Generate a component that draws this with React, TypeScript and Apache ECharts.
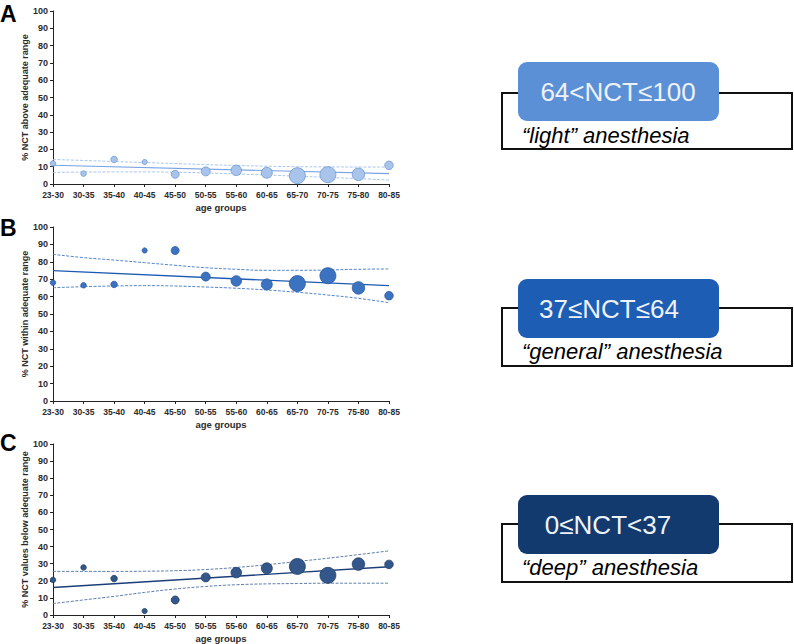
import React, { useEffect, useRef } from "react";
import * as echarts from "echarts";

const categories = ["23-30", "30-35", "35-40", "40-45", "45-50", "50-55", "55-60", "60-65", "65-70", "70-75", "75-80", "80-85"];
const yTicks = [0, 100, 10];

// relative group size (bubble diameter weight) per age group
const groupWeights = [5.5, 5.5, 6.5, 5.2, 8, 9, 10.5, 11, 16, 16, 12.5, 8.5];

const lightValues = [11.9, 6.0, 14.2, 12.7, 5.6, 7.3, 7.9, 6.5, 4.8, 5.4, 5.6, 10.8];
const lightFit = [10.8, 6.0];
const lightUpper = [14.2, 13.6, 13.0, 12.4, 11.8, 11.2, 10.7, 10.3, 10.0, 9.9, 9.8, 9.8];
const lightLower = [6.7, 6.9, 7.0, 7.0, 6.8, 6.4, 5.8, 5.2, 4.5, 3.8, 3.1, 2.3];

const generalValues = [68, 66.5, 67, 86.5, 86.5, 71.5, 69, 67, 67.5, 72, 65, 60.5];
const generalFit = [74.9, 66.3];
const generalUpper = [84.3, 82.4, 81.0, 79.5, 78.0, 76.6, 75.7, 75.1, 75.1, 75.3, 75.7, 75.9];
const generalLower = [65.1, 65.7, 66.1, 66.3, 66.1, 65.5, 64.8, 63.8, 62.5, 60.9, 59.0, 56.5];

const deepValues = [20.5, 27.8, 21.3, 2.3, 8.8, 22, 24.8, 27.3, 28.4, 23.2, 29.8, 29.6];
const deepFit = [16.1, 28.2];
const deepUpper = [25.5, 25.5, 25.5, 25.6, 25.9, 26.6, 27.8, 29.4, 31.3, 33.2, 35.3, 37.5];
const deepLower = [6.7, 8.8, 10.9, 13.2, 15.2, 16.7, 17.7, 18.2, 18.4, 18.6, 18.6, 18.6];

const panelLetters = ["A", "B", "C"];
const yNames = ["% NCT above adequate range", "% NCT within adequate range", "% NCT values below adequate range"];
const xName = "age groups";
const rangeTexts = ["64<NCT≤100", "37≤NCT≤64", "0≤NCT<37"];
const stateTexts = ["\u201Clight\u201D anesthesia", "\u201Cgeneral\u201D anesthesia", "\u201Cdeep\u201D anesthesia"];

const FONT = "'Liberation Sans', Arial, Helvetica, sans-serif";

const panels = [
  { values: lightValues, fit: lightFit, upper: lightUpper, lower: lightLower, fill: "#a8c4ea", border: "#6e97d2", line: "#78a4e4", ci: "#aac6ee", box: "#5b8fd6", top: 11, h: 173 },
  { values: generalValues, fit: generalFit, upper: generalUpper, lower: generalLower, fill: "#3b73c1", border: "#2a5ba3", line: "#1d5bb2", ci: "#5585c9", box: "#1e5db4", top: 227, h: 174 },
  { values: deepValues, fit: deepFit, upper: deepUpper, lower: deepLower, fill: "#33578a", border: "#213e6a", line: "#1b3d78", ci: "#5f7daa", box: "#123a6e", top: 444, h: 173 },
];

const boxes = [
  { outerY: 93, outerH: 56, blueY: 62, textX: 618, subY: 135 },
  { outerY: 308, outerH: 58, blueY: 279, textX: 609, subY: 351 },
  { outerY: 524, outerH: 58, blueY: 495, textX: 608, subY: 567 },
];
const letterY = [14, 228, 443];

export default function App() {
  const ref = useRef<HTMLDivElement>(null);
  useEffect(() => {
    if (!ref.current) return;
    const chart = echarts.init(ref.current, null, { renderer: "svg" });
    const grids: any[] = [];
    const xAxes: any[] = [];
    const yAxes: any[] = [];
    const series: any[] = [];
    const graphics: any[] = [];
    const last = categories[categories.length - 1];
    panels.forEach((p, i) => {
      grids.push({ left: 53, width: 336, top: p.top, height: p.h });
      xAxes.push({
        type: "category",
        gridIndex: i,
        data: categories,
        boundaryGap: false,
        name: xName,
        nameLocation: "middle",
        nameGap: 18,
        nameTextStyle: { fontFamily: FONT, fontWeight: "bold", fontSize: 9.5, color: "#2b2b2b" },
        axisLine: { lineStyle: { color: "#222", width: 1 } },
        axisTick: { alignWithLabel: true, length: 3, lineStyle: { color: "#222" } },
        axisLabel: { margin: 6, fontFamily: FONT, fontWeight: "bold", fontSize: 8.5, color: "#2b2b2b", interval: 0 },
        splitLine: { show: false },
      });
      yAxes.push({
        type: "value",
        gridIndex: i,
        min: yTicks[0],
        max: yTicks[1],
        interval: yTicks[2],
        name: yNames[i],
        nameLocation: "middle",
        nameGap: 20,
        nameTextStyle: { fontFamily: FONT, fontWeight: "bold", fontSize: 9, color: "#2b2b2b" },
        axisLine: { show: true, lineStyle: { color: "#222", width: 1 } },
        axisTick: { show: true, length: 3, lineStyle: { color: "#222" } },
        axisLabel: { margin: 5, fontFamily: FONT, fontWeight: "bold", fontSize: 9, color: "#2b2b2b" },
        splitLine: { show: false },
      });
      series.push({
        type: "line",
        xAxisIndex: i,
        yAxisIndex: i,
        data: categories.map((c, k) => [c, p.upper[k]]),
        smooth: true,
        symbol: "none",
        lineStyle: { color: p.ci, width: 1, type: [3, 1.5] },
        z: 2,
      });
      series.push({
        type: "line",
        xAxisIndex: i,
        yAxisIndex: i,
        data: categories.map((c, k) => [c, p.lower[k]]),
        smooth: true,
        symbol: "none",
        lineStyle: { color: p.ci, width: 1, type: [3, 1.5] },
        z: 2,
      });
      series.push({
        type: "line",
        xAxisIndex: i,
        yAxisIndex: i,
        data: [[categories[0], p.fit[0]], [last, p.fit[1]]],
        symbol: "none",
        lineStyle: { color: p.line, width: i === 0 ? 1.1 : 1.4 },
        z: 3,
      });
      series.push({
        type: "scatter",
        xAxisIndex: i,
        yAxisIndex: i,
        data: categories.map((c, k) => [c, p.values[k], groupWeights[k]]),
        symbolSize: (d: any) => d[2],
        itemStyle: { color: p.fill, borderColor: p.border, borderWidth: 0.8, opacity: 1 },
        z: 4,
      });

      graphics.push({
        type: "text",
        x: 0,
        y: letterY[i],
        style: { text: panelLetters[i], font: `bold 23px ${FONT}`, fill: "#000", verticalAlign: "middle", align: "left" },
      });
      const b = boxes[i];
      graphics.push({
        type: "rect",
        shape: { x: 502, y: b.outerY, width: 290, height: b.outerH },
        style: { fill: "#fff", stroke: "#111", lineWidth: 2 },
        z: 1,
      });
      graphics.push({
        type: "rect",
        shape: { x: 518, y: b.blueY, width: 201, height: 59, r: 9 },
        style: { fill: p.box, stroke: null },
        z: 2,
      });
      graphics.push({
        type: "text",
        x: b.textX,
        y: b.blueY + 30,
        style: { text: rangeTexts[i], font: `26px ${FONT}`, fill: "#eef2f8", align: "center", verticalAlign: "middle" },
        z: 3,
      });
      graphics.push({
        type: "text",
        x: 522,
        y: b.subY,
        style: { text: stateTexts[i], font: `italic 22px ${FONT}`, fill: "#000", align: "left", verticalAlign: "middle" },
        z: 3,
      });
    });

    chart.setOption({
      animation: false,
      backgroundColor: "#fff",
      grid: grids,
      xAxis: xAxes,
      yAxis: yAxes,
      series,
      graphic: graphics,
    });
    return () => chart.dispose();
  }, []);
  return <div ref={ref} style={{ position: "fixed", left: 0, top: 0, width: 794, height: 644 }} />;
}
